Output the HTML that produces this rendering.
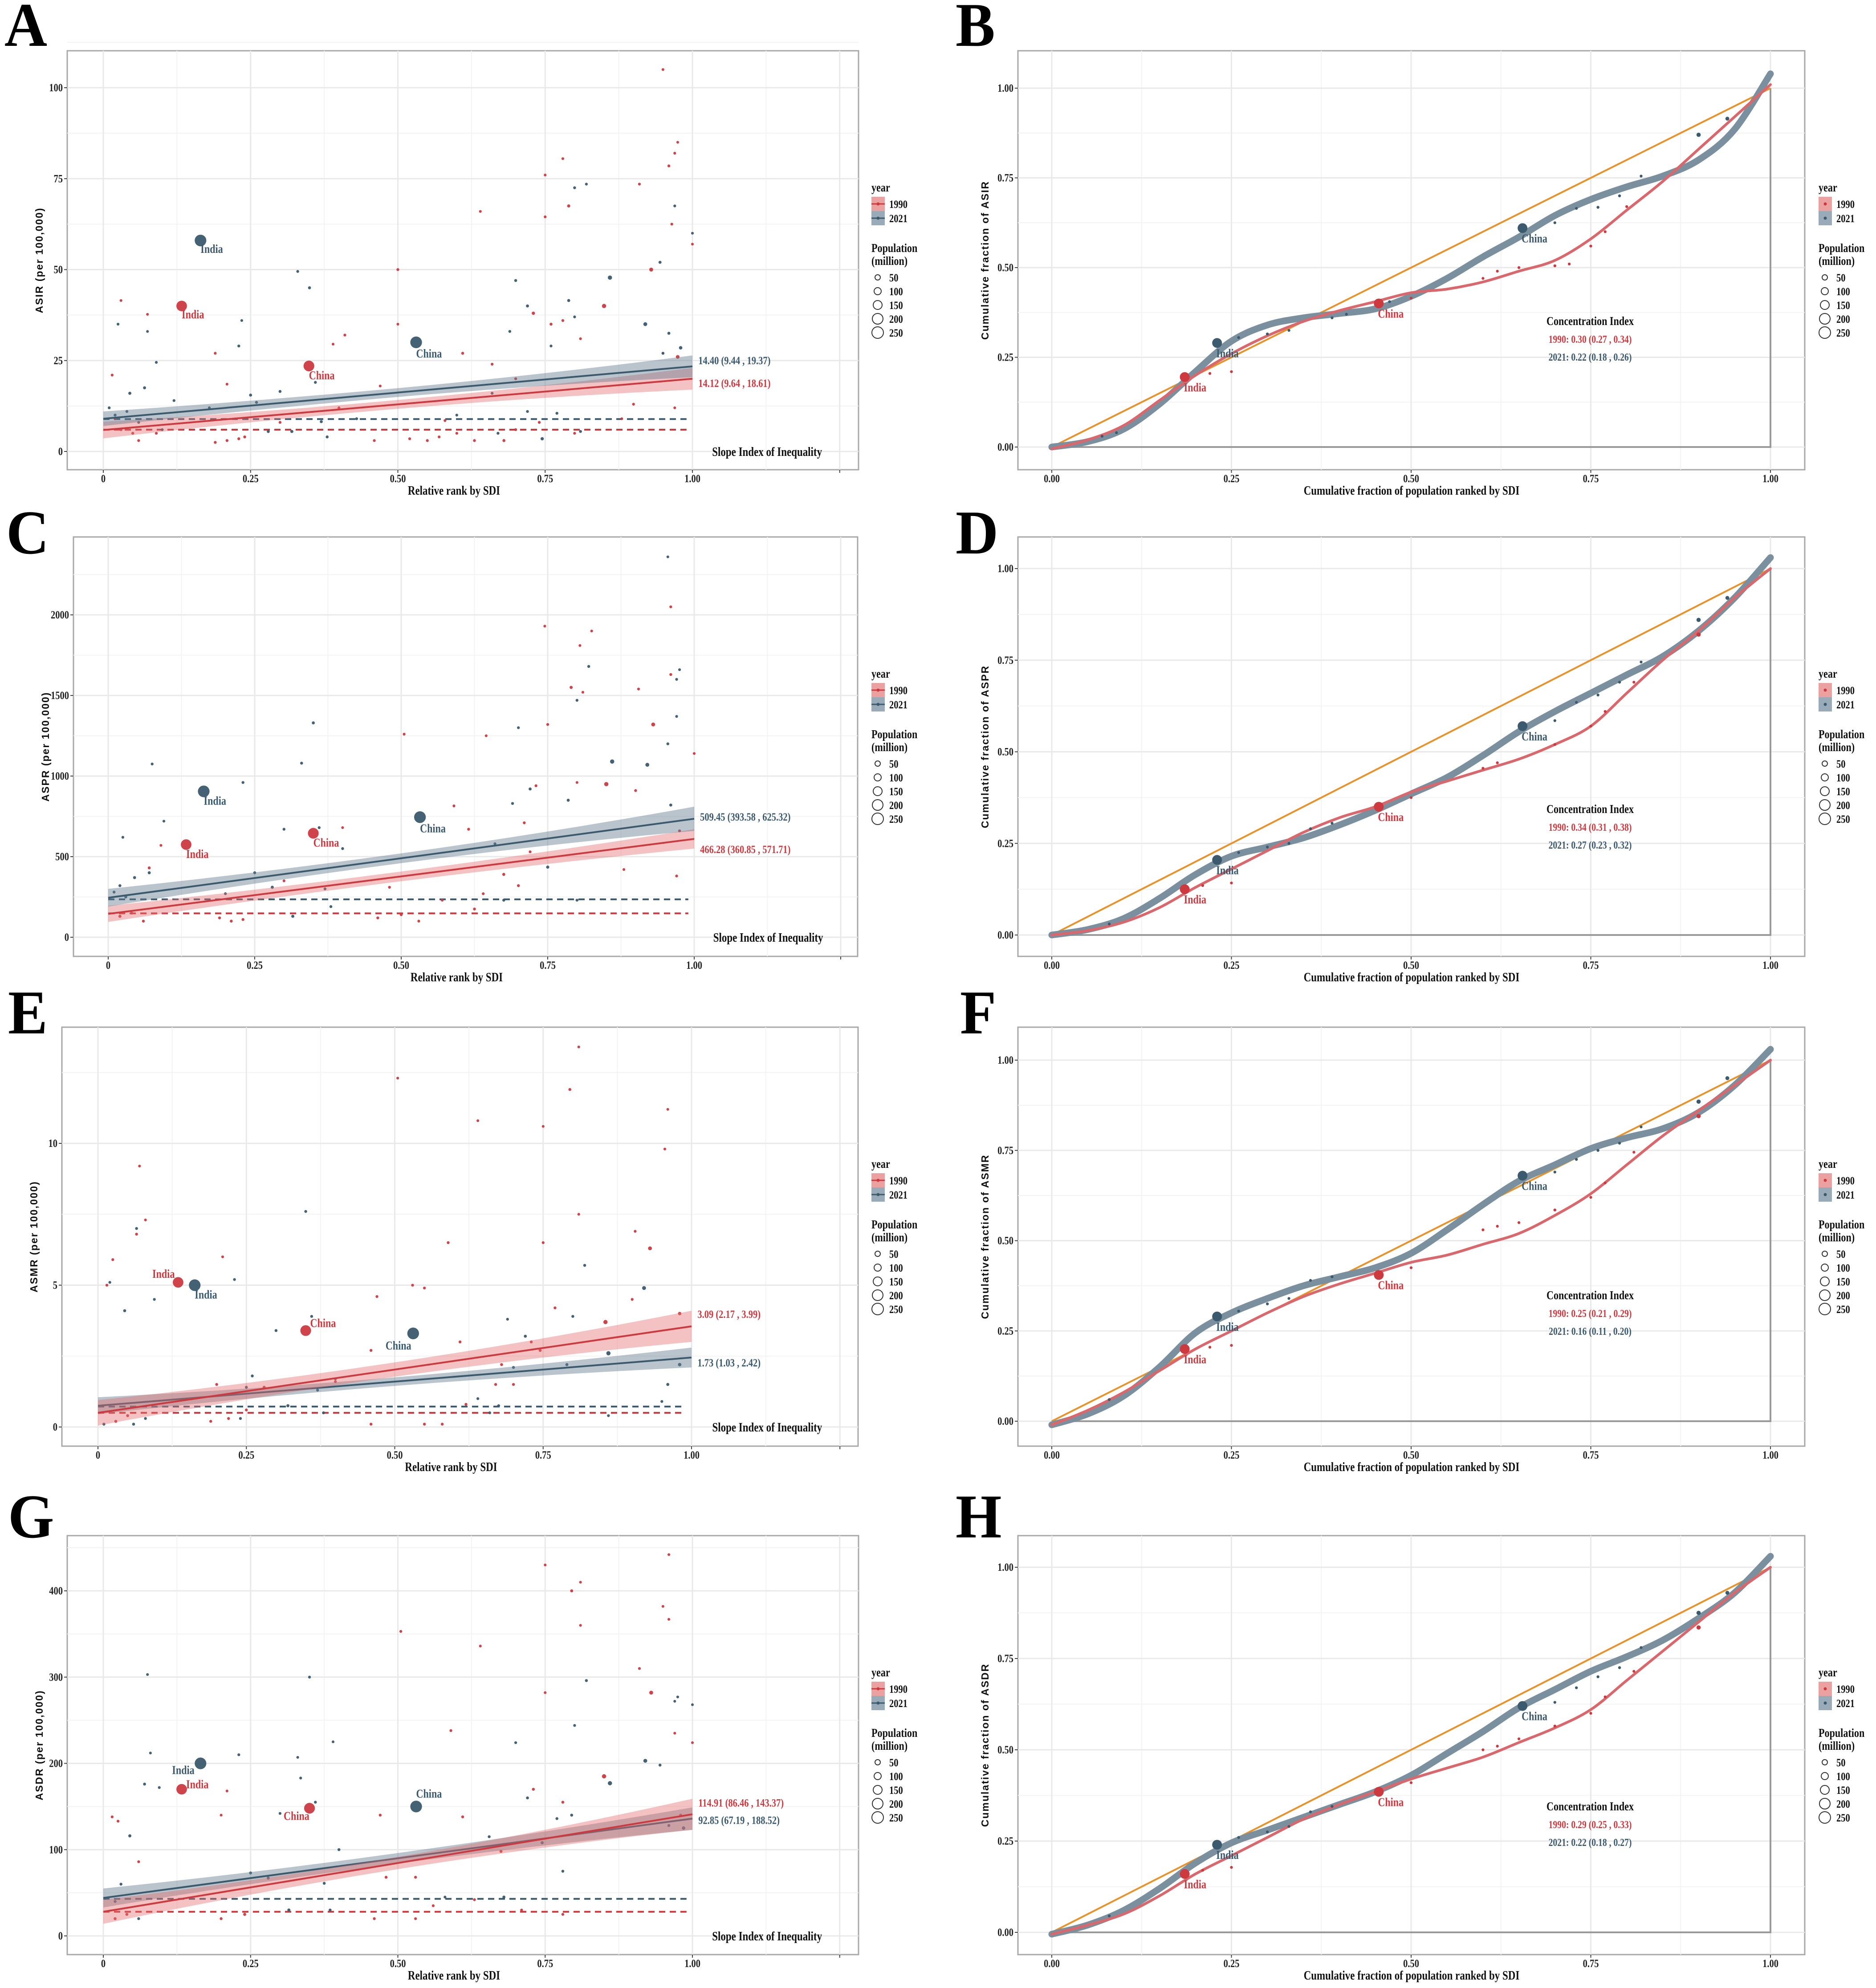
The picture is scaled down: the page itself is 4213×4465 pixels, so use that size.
<!DOCTYPE html>
<html><head><meta charset="utf-8"><title>Health inequality panels A–H</title>
<style>
html,body{margin:0;padding:0;background:#fff;}
svg{display:block;}
text{font-family:"Liberation Serif",serif;font-weight:bold;}
.sans{font-family:"Liberation Sans",sans-serif;}
</style></head>
<body>
<svg id="fig" width="4213" height="4465" viewBox="0 0 4213 4465" xmlns="http://www.w3.org/2000/svg"></svg>
<script>
// ===== DATA =====
// Scatter panels: [relative rank, rate, population (millions)]
const A1990 = [[0.133,40,1100],[0.349,23.5,1150],[0.85,40,60],[0.93,50,40],[0.975,26,30],[0.73,38,15],[0.79,67.5,12],[0.96,78.5,5],[0.97,82,4],[0.975,85,3],[0.95,105,3],[0.965,62.5,4],[1.0,57,3],[0.91,73.5,4],[0.75,76,3],[0.78,80.5,3],[0.75,64.5,4],[0.64,66,3],[0.5,50,5],[0.03,41.5,3],[0.075,37.7,3],[0.19,27,4],[0.41,32,4],[0.39,29.5,3],[0.015,21,4],[0.61,27,6],[0.76,35,6],[0.78,36,4],[0.81,31,3],[0.95,27,3],[0.21,18.5,3],[0.5,35,3],[0.47,18,3],[0.66,24,4],[0.7,20,5],[0.02,9,5],[0.03,6,6],[0.05,5,5],[0.06,3,4],[0.09,5,4],[0.19,2.5,5],[0.21,3,5],[0.23,3.5,6],[0.24,4,6],[0.46,3,4],[0.52,3.5,4],[0.55,3,5],[0.57,4,4],[0.6,5,4],[0.63,3,5],[0.68,3,7],[0.7,6,4],[0.74,8,5],[0.8,5,4],[0.9,13,4],[0.97,12,3],[0.4,12,4],[0.3,8,4],[0.58,8.5,4],[0.88,9,3]];
const A2021 = [[0.165,58,1400],[0.531,30,1420],[0.86,47.8,60],[0.92,35,40],[0.945,52,8],[0.98,28.5,20],[0.35,45,8],[0.79,41.5,8],[0.72,40,8],[0.70,47,6],[0.80,72.5,5],[0.82,73.5,4],[0.97,67.5,4],[1.0,60,3],[0.96,32.5,8],[0.33,49.5,4],[0.025,35,4],[0.075,33,3],[0.23,29,5],[0.235,36,3],[0.36,19,5],[0.30,16.5,6],[0.045,16,10],[0.07,17.5,8],[0.09,24.5,4],[0.69,33,5],[0.8,37,4],[0.76,29,4],[0.95,27,5],[0.25,15.5,8],[0.26,13.5,6],[0.72,11,4],[0.77,10.5,5],[0.01,12,5],[0.02,10,6],[0.04,11,5],[0.06,8,4],[0.1,6,4],[0.28,5.5,8],[0.32,5.5,10],[0.37,8.2,8],[0.38,4,6],[0.66,16,5],[0.67,5,5],[0.745,3.5,15],[0.81,5.5,5],[0.18,12,4],[0.12,14,4],[0.43,9,5],[0.6,10,4]];
const C1990 = [[0.133,575,1100],[0.35,645,1150],[0.85,950,60],[0.93,1320,40],[0.79,1550,12],[0.96,1630,5],[0.96,2050,4],[0.745,1930,3],[0.805,1810,3],[0.825,1900,3],[0.905,1540,4],[0.81,1520,3],[0.505,1260,4],[0.645,1250,3],[0.75,1320,4],[0.59,815,4],[0.615,670,5],[0.73,940,5],[0.71,710,5],[0.9,910,4],[0.975,660,5],[1.0,1140,3],[0.675,390,8],[0.625,175,5],[0.21,100,6],[0.07,430,6],[0.02,130,8],[0.04,150,6],[0.06,100,5],[0.19,120,5],[0.23,110,5],[0.46,120,5],[0.5,140,5],[0.53,100,4],[0.57,230,4],[0.64,270,4],[0.7,320,5],[0.72,530,4],[0.8,960,3],[0.09,570,3],[0.4,680,3],[0.3,350,4],[0.48,310,4],[0.97,380,4],[0.88,420,3]];
const C2021 = [[0.163,905,1400],[0.532,745,1420],[0.86,1090,60],[0.92,1070,40],[0.82,1680,6],[0.80,1470,5],[0.97,1600,4],[0.975,1660,3],[0.955,1200,5],[0.97,1370,4],[0.96,820,8],[0.35,1330,8],[0.33,1080,6],[0.23,960,5],[0.075,1075,4],[0.70,1300,4],[0.69,830,5],[0.72,920,8],[0.785,850,8],[0.75,435,10],[0.28,310,10],[0.315,130,10],[0.07,400,8],[0.045,370,8],[0.955,2360,3],[0.02,320,6],[0.03,250,6],[0.01,280,5],[0.25,400,6],[0.36,680,5],[0.3,670,5],[0.4,550,5],[0.37,300,6],[0.675,230,6],[0.8,230,5],[0.66,580,5],[0.095,720,3],[0.025,620,4],[0.2,270,5],[0.38,190,5]];
const E1990 = [[0.135,5.1,1100],[0.35,3.4,1150],[0.81,13.4,3],[0.505,12.3,3],[0.795,11.9,6],[0.96,11.2,3],[0.64,10.8,3],[0.75,10.6,3],[0.955,9.8,3],[0.07,9.2,3],[0.08,7.3,3],[0.81,7.5,3],[0.065,6.8,5],[0.59,6.5,5],[0.75,6.5,4],[0.93,6.3,40],[0.905,6.9,4],[0.025,5.9,4],[0.015,5.0,4],[0.21,6.0,3],[0.855,3.7,60],[0.98,4.0,20],[0.73,3.0,6],[0.745,2.7,8],[0.61,3.0,5],[0.46,2.7,5],[0.28,1.4,8],[0.2,1.5,5],[0.68,2.2,6],[0.77,4.2,5],[0.47,4.6,4],[0.53,5.0,4],[0.55,4.9,4],[0.9,4.5,4],[0.67,1.5,5],[0.7,1.5,5],[0.05,0.4,6],[0.03,0.2,6],[0.19,0.2,5],[0.22,0.3,5],[0.46,0.1,5],[0.55,0.1,5],[0.58,0.1,5],[0.62,0.8,5],[0.4,1.6,4],[0.25,0.6,5]];
const E2021 = [[0.163,5.0,1400],[0.531,3.3,1420],[0.35,7.6,5],[0.065,7.0,5],[0.82,5.7,6],[0.92,4.9,40],[0.045,4.1,8],[0.3,3.4,6],[0.86,2.6,60],[0.98,2.2,20],[0.96,1.5,8],[0.72,3.2,8],[0.79,2.2,8],[0.25,1.4,6],[0.32,0.75,10],[0.36,3.9,5],[0.02,5.1,4],[0.23,5.2,4],[0.095,4.5,4],[0.7,2.1,6],[0.8,3.9,5],[0.69,3.8,4],[0.26,1.8,6],[0.37,1.3,5],[0.4,1.7,5],[0.675,0.75,6],[0.66,0.5,5],[0.38,0.5,6],[0.01,0.1,6],[0.06,0.1,6],[0.08,0.3,5],[0.24,0.3,5],[0.86,0.4,4],[0.95,0.9,4],[0.64,1.0,4]];
const G1990 = [[0.133,170,1100],[0.35,148,1150],[0.96,442,3],[0.75,430,3],[0.81,410,3],[0.795,400,8],[0.95,382,3],[0.96,367,3],[0.81,360,3],[0.505,353,4],[0.64,336,3],[0.91,310,4],[0.93,282,40],[0.75,282,3],[0.59,238,4],[0.97,235,3],[1.0,224,3],[0.85,185,60],[0.73,170,6],[0.78,155,5],[0.61,138,5],[0.675,98,8],[0.47,140,5],[0.48,68,6],[0.025,133,4],[0.015,138,4],[0.21,168,3],[0.06,86,4],[0.2,140,3],[0.02,20,6],[0.04,25,6],[0.2,20,5],[0.24,25,8],[0.46,20,5],[0.53,20,4],[0.56,35,4],[0.63,42,5],[0.71,30,4],[0.78,25,4],[0.53,68,5],[0.98,140,8]];
const G2021 = [[0.165,200,1400],[0.531,150,1420],[0.075,303,3],[0.35,300,5],[0.82,296,6],[0.975,277,3],[0.97,272,3],[1.0,268,3],[0.80,244,4],[0.92,203,40],[0.945,198,6],[0.86,177,60],[0.70,224,4],[0.39,225,3],[0.23,210,4],[0.33,207,3],[0.08,212,3],[0.07,176,6],[0.095,172,4],[0.045,116,10],[0.335,183,4],[0.36,155,5],[0.3,142,4],[0.795,140,6],[0.77,136,5],[0.72,160,6],[0.4,100,6],[0.745,108,10],[0.985,125,20],[0.96,128,6],[0.28,67,8],[0.25,73,6],[0.375,61,6],[0.315,30,10],[0.385,30,6],[0.68,45,8],[0.655,115,5],[0.02,40,6],[0.03,60,5],[0.06,20,5],[0.58,45,4],[0.78,75,5]];

// SII fitted lines: [value at rank 0, value at rank 1, halfwidth at 0, min halfwidth, halfwidth at 1]
const fitA1990 = [5.9,20.0,2.3,1.2,3.0];
const fitA2021 = [9.0,23.4,2.0,1.2,3.0];
const fitC1990 = [145,610,50,30,60];
const fitC2021 = [245,735,55,30,75];
const fitE1990 = [0.5,3.55,0.45,0.25,0.55];
const fitE2021 = [0.75,2.45,0.3,0.15,0.35];
const fitG1990 = [28,141,14,7,18];
const fitG2021 = [44,136,11,6,13];
// reference (dashed) levels
const refA = [6.0,8.9];
const refC = [148,235];
const refE = [0.5,0.72];
const refG = [28,43];

// Concentration curves: rank fraction grid and cumulative fraction values
const cumX = [0,0.05,0.1,0.15,0.2,0.25,0.3,0.35,0.4,0.45,0.5,0.55,0.6,0.65,0.7,0.75,0.8,0.85,0.9,0.95,1.0];
const B1990 = [-0.005,0.02,0.06,0.13,0.2,0.26,0.31,0.35,0.38,0.405,0.43,0.44,0.46,0.49,0.52,0.58,0.66,0.74,0.83,0.92,1.01];
const B2021 = [0,0.015,0.05,0.12,0.21,0.295,0.34,0.36,0.372,0.385,0.42,0.47,0.53,0.585,0.645,0.69,0.725,0.755,0.8,0.885,1.04];
const D1990 = [0,0.012,0.035,0.075,0.13,0.18,0.23,0.28,0.32,0.35,0.39,0.42,0.45,0.48,0.52,0.57,0.66,0.75,0.83,0.92,1.0];
const D2021 = [0,0.015,0.045,0.1,0.165,0.215,0.24,0.265,0.3,0.34,0.385,0.43,0.49,0.555,0.61,0.66,0.71,0.76,0.83,0.92,1.03];
const F1990 = [-0.01,0.03,0.08,0.14,0.2,0.25,0.3,0.345,0.38,0.41,0.44,0.46,0.49,0.52,0.57,0.63,0.71,0.79,0.86,0.93,1.0];
const F2021 = [-0.01,0.02,0.07,0.15,0.245,0.3,0.34,0.375,0.4,0.425,0.465,0.53,0.6,0.665,0.71,0.755,0.785,0.81,0.855,0.93,1.03];
const H1990 = [-0.005,0.02,0.05,0.1,0.16,0.21,0.26,0.31,0.35,0.385,0.42,0.45,0.48,0.52,0.56,0.61,0.69,0.77,0.85,0.93,1.0];
const H2021 = [-0.005,0.02,0.06,0.12,0.19,0.245,0.28,0.315,0.35,0.385,0.43,0.49,0.55,0.615,0.665,0.715,0.755,0.8,0.86,0.93,1.03];
// key country markers on curves: [x, y, population]
const Bpts1990 = [[0.185,0.195,1100],[0.455,0.40,1150],[0.22,0.205,4],[0.25,0.21,4],[0.5,0.415,4],[0.6,0.47,4],[0.62,0.49,4],[0.65,0.5,4],[0.7,0.505,5],[0.72,0.51,4],[0.75,0.56,4],[0.77,0.6,4],[0.8,0.67,4]];
const Bpts2021 = [[0.23,0.29,1400],[0.655,0.61,1420],[0.9,0.87,60],[0.94,0.915,40],[0.07,0.03,4],[0.09,0.04,4],[0.26,0.305,4],[0.3,0.315,5],[0.33,0.325,4],[0.39,0.36,4],[0.41,0.37,4],[0.47,0.405,4],[0.7,0.625,4],[0.73,0.665,4],[0.76,0.668,5],[0.79,0.7,5],[0.82,0.755,4]];
const Dpts1990 = [[0.185,0.125,1100],[0.455,0.35,1150],[0.9,0.82,60],[0.21,0.135,4],[0.25,0.142,4],[0.5,0.375,4],[0.6,0.455,4],[0.62,0.47,4],[0.7,0.52,5],[0.75,0.57,4],[0.77,0.61,4],[0.81,0.69,4]];
const Dpts2021 = [[0.23,0.205,1400],[0.655,0.57,1420],[0.9,0.86,60],[0.94,0.92,40],[0.08,0.03,4],[0.26,0.225,4],[0.3,0.24,5],[0.33,0.25,4],[0.36,0.29,4],[0.39,0.305,4],[0.7,0.585,4],[0.73,0.635,4],[0.76,0.655,5],[0.79,0.69,5],[0.82,0.745,4]];
const Fpts1990 = [[0.185,0.2,1100],[0.455,0.405,1150],[0.9,0.845,60],[0.22,0.205,4],[0.25,0.21,4],[0.5,0.425,4],[0.6,0.53,4],[0.62,0.54,4],[0.65,0.55,4],[0.7,0.585,5],[0.75,0.62,4],[0.77,0.66,4],[0.81,0.745,4]];
const Fpts2021 = [[0.23,0.29,1400],[0.655,0.68,1420],[0.9,0.885,60],[0.94,0.95,40],[0.08,0.06,4],[0.26,0.305,4],[0.3,0.325,5],[0.33,0.34,4],[0.36,0.39,4],[0.39,0.4,4],[0.7,0.69,4],[0.73,0.725,4],[0.76,0.75,5],[0.79,0.77,5],[0.82,0.815,4]];
const Hpts1990 = [[0.185,0.16,1100],[0.455,0.385,1150],[0.9,0.835,60],[0.21,0.17,4],[0.25,0.178,4],[0.5,0.41,4],[0.6,0.5,4],[0.62,0.51,4],[0.65,0.53,4],[0.7,0.565,5],[0.75,0.6,4],[0.77,0.645,4],[0.81,0.715,4]];
const Hpts2021 = [[0.23,0.24,1400],[0.655,0.62,1420],[0.9,0.875,60],[0.94,0.93,40],[0.08,0.045,4],[0.26,0.26,4],[0.3,0.275,5],[0.33,0.29,4],[0.36,0.33,4],[0.39,0.345,4],[0.7,0.63,4],[0.73,0.67,4],[0.76,0.7,5],[0.79,0.725,5],[0.82,0.78,4]];

const scatterTicksX = [0,0.25,0.5,0.75,1.0];
const scatterTickLabX = ["0","0.25","0.50","0.75","1.00"];
const cumTicks = [0,0.25,0.5,0.75,1.0];
const cumTickLab = ["0.00","0.25","0.50","0.75","1.00"];
const ticksA = [0,25,50,75,100];
const ticksC = [0,500,1000,1500,2000];
const ticksE = [0,5,10];
const ticksG = [0,100,200,300,400];
const siiA = ["14.12 (9.64 , 18.61)","14.40 (9.44 , 19.37)"];
const siiC = ["466.28 (360.85 , 571.71)","509.45 (393.58 , 625.32)"];
const siiE = ["3.09 (2.17 , 3.99)","1.73 (1.03 , 2.42)"];
const siiG = ["114.91 (86.46 , 143.37)","92.85 (67.19 , 188.52)"];
const ciB = ["1990: 0.30 (0.27 , 0.34)","2021: 0.22 (0.18 , 0.26)"];
const ciD = ["1990: 0.34 (0.31 , 0.38)","2021: 0.27 (0.23 , 0.32)"];
const ciF = ["1990: 0.25 (0.21 , 0.29)","2021: 0.16 (0.11 , 0.20)"];
const ciH = ["1990: 0.29 (0.25 , 0.33)","2021: 0.22 (0.18 , 0.27)"];

// ===== DRAWING =====
const NS = "http://www.w3.org/2000/svg";
const svg = document.getElementById('fig');
const RED = "#cc3a40", BLUE = "#3b5a6e";
function el(tag, attrs, parent){
  const e = document.createElementNS(NS, tag);
  for (const k in attrs) e.setAttribute(k, attrs[k]);
  (parent||svg).appendChild(e);
  return e;
}
function txt(parent, x, y, s, size, fill, anchor, sx, name, cls){
  const t = el('text', {transform:`translate(${x},${y}) scale(${sx||0.82},1)`, 'font-size':size, fill:fill||'#111', 'text-anchor':anchor||'start'}, parent);
  if (cls) t.setAttribute('class', cls);
  t.textContent = s;
  
  
  return t;
}
function rad(pop){ return 2.6 + Math.sqrt(pop)*0.28; }

function frame(g, P, xTicks, xLabs, xMinor, yTicks, yLabs, yMinor, X, Y){
  el('rect',{x:P.l,y:P.t,width:P.r-P.l,height:P.b-P.t,fill:'#fff',stroke:'#a8a8a8','stroke-width':3},g);
  yMinor.forEach(v=>el('line',{x1:P.l,x2:P.r,y1:Y(v),y2:Y(v),stroke:'#f3f3f3','stroke-width':2},g));
  xMinor.forEach(v=>el('line',{y1:P.t,y2:P.b,x1:X(v),x2:X(v),stroke:'#f3f3f3','stroke-width':2},g));
  yTicks.forEach((v,i)=>{
    el('line',{x1:P.l,x2:P.r,y1:Y(v),y2:Y(v),stroke:'#e9e9e9','stroke-width':3},g);
    el('line',{x1:P.l-7,x2:P.l,y1:Y(v),y2:Y(v),stroke:'#444','stroke-width':2},g);
    txt(g, P.l-10, Y(v)+8, yLabs[i], 25, '#222', 'end', 0.82, 'y-tick-label');
  });
  xTicks.forEach((v,i)=>{
    el('line',{y1:P.t,y2:P.b,x1:X(v),x2:X(v),stroke:'#e9e9e9','stroke-width':3},g);
    el('line',{y1:P.b,y2:P.b+7,x1:X(v),x2:X(v),stroke:'#444','stroke-width':2},g);
    if (xLabs[i]!=='') txt(g, X(v), P.b+28, xLabs[i], 25, '#222', 'middle', 0.82, 'x-tick-label');
  });
}

function legend(g, lx, top, curve){
  const lg = el('g',{},g);
  
  
  txt(lg, lx, top+316, 'year', 27, '#111', 'start', 0.82, 'legend-title-year');
  [[RED,'rgba(229,130,130,0.75)','1990'],[BLUE,'rgba(110,135,155,0.7)','2021']].forEach((k,i)=>{
    const y = top+328+i*32;
    const kr = el('rect',{x:lx,y:y,width:30,height:32,fill:k[1]},lg);
    
    
    if(!curve) el('line',{x1:lx,x2:lx+30,y1:y+16,y2:y+16,stroke:k[0],'stroke-width':3},lg);
    el('circle',{cx:lx+15,cy:y+16,r:3.5,fill:k[0]},lg);
    txt(lg, lx+40, y+25, k[2], 25, '#111', 'start', 0.82, 'legend-label-'+k[2]);
  });
  txt(lg, lx, top+452, 'Population', 27, '#111', 'start', 0.82, 'legend-title-population');
  txt(lg, lx, top+481, '(million)', 27, '#111', 'start', 0.82, 'legend-title-million');
  [['50',6],['100',8],['150',10],['200',12],['250',13]].forEach((s,i)=>{
    const cy = top+509+i*31;
    el('circle',{cx:lx+14,cy:cy,r:s[1],fill:'none',stroke:'#333','stroke-width':2},lg);
    txt(lg, lx+40, cy+9, s[0], 25, '#111', 'start', 0.82, 'legend-size-'+s[0]);
  });
}

function band(g, X, Y, f, fill, lineCol, name){
  const up=[], lo=[];
  for(let i=0;i<=40;i++){
    const x=i/40, xc=0.45;
    const h = x<xc ? f[3]+(f[2]-f[3])*Math.pow((xc-x)/xc,2) : f[3]+(f[4]-f[3])*Math.pow((x-xc)/(1-xc),2);
    const m = f[0]+(f[1]-f[0])*x;
    up.push(X(x)+','+Y(m+h)); lo.unshift(X(x)+','+Y(m-h));
  }
  const p = el('polygon',{points:up.concat(lo).join(' '),fill:fill},g);
  
  
  const l = el('line',{x1:X(0),y1:Y(f[0]),x2:X(1),y2:Y(f[1]),stroke:lineCol,'stroke-width':4},g);
  
  
}

function scatterPanel(cfg){
  const g = el('g',{});
  
  
  const P = cfg.P;
  const X = v => cfg.x0 + (cfg.x1-cfg.x0)*v;
  const Y = v => cfg.y0 - (cfg.y0-cfg.yRefPx)*v/cfg.yRef;
  txt(g, cfg.lx, cfg.ly, cfg.letter, 140, '#000', 'start', 0.95, 'panel-letter-'+cfg.letter);
  const xMinor=[0.125,0.375,0.625,0.875,1.125];
  const step = cfg.ticks[1]-cfg.ticks[0];
  const yMinor = cfg.ticks.map(v=>v+step/2);
  frame(g, P, scatterTicksX.concat([1.25]), scatterTickLabX.concat(['']), xMinor, cfg.ticks, cfg.ticks.map(String), yMinor, X, Y);
  // dashed reference
  el('line',{x1:X(0),x2:X(0.99),y1:Y(cfg.ref[1]),y2:Y(cfg.ref[1]),stroke:BLUE,'stroke-width':4,'stroke-dasharray':'14 10'},g);
  el('line',{x1:X(0),x2:X(0.99),y1:Y(cfg.ref[0]),y2:Y(cfg.ref[0]),stroke:RED,'stroke-width':4,'stroke-dasharray':'14 10'},g);
  // points
  [[cfg.p1990,RED,'1990'],[cfg.p2021,BLUE,'2021']].forEach(s=>{
    s[0].forEach(p=>{
      const c = el('circle',{cx:X(p[0]),cy:Y(p[1]),r:rad(p[2]),fill:s[1],'fill-opacity':0.95},g);
      
      
    });
  });
  // bands
  const order = cfg.redOnTop ? [[cfg.f2021,'rgba(100,125,145,0.45)',BLUE,'sii-2021'],[cfg.f1990,'rgba(228,110,110,0.42)',RED,'sii-1990']]
                             : [[cfg.f1990,'rgba(228,110,110,0.42)',RED,'sii-1990'],[cfg.f2021,'rgba(100,125,145,0.45)',BLUE,'sii-2021']];
  order.forEach(o=>band(g,X,Y,o[0],o[1],o[2],o[3]));
  // country labels
  cfg.labels.forEach(L=>txt(g, X(L[0])+L[2], Y(L[1])+L[3], L[4], 27, L[5], 'start', 0.82, 'country-label'));
  // SII texts
  txt(g, X(1.01), Y(cfg.siiPos[0])+8, cfg.sii[0], 25, RED, 'start', 0.82, 'sii-value-1990');
  txt(g, X(1.01), Y(cfg.siiPos[1])+8, cfg.sii[1], 25, BLUE, 'start', 0.82, 'sii-value-2021');
  txt(g, X(1.22), Y(0)+10, 'Slope Index of Inequality', 28, '#111', 'end', 0.82, 'sii-caption');
  txt(g, (P.l+P.r)/2-20, P.b+56, 'Relative rank by SDI', 28, '#111', 'middle', 0.82, 'x-axis-title');
  const yt = txt(g, 0, 0, cfg.ytitle, 23, '#111', 'middle', 1, 'y-axis-title', 'sans');
  yt.setAttribute('transform', `translate(${P.l-55},${(P.t+P.b)/2}) rotate(-90)`);
  yt.setAttribute('letter-spacing','2');
  legend(g, 1957, P.t, false);
}

function smoothPath(X, Y, xs, ys){
  const pts = xs.map((x,i)=>[X(x),Y(ys[i])]);
  let d = `M${pts[0][0]},${pts[0][1]}`;
  for(let i=0;i<pts.length-1;i++){
    const p0=pts[Math.max(0,i-1)], p1=pts[i], p2=pts[i+1], p3=pts[Math.min(pts.length-1,i+2)];
    d += ` C${p1[0]+(p2[0]-p0[0])/6},${p1[1]+(p2[1]-p0[1])/6} ${p2[0]-(p3[0]-p1[0])/6},${p2[1]-(p3[1]-p1[1])/6} ${p2[0]},${p2[1]}`;
  }
  return d;
}

function curvePanel(cfg){
  const g = el('g',{});
  
  
  const P = cfg.P;
  const X = v => 2362 + 1614*v;
  const Y = v => cfg.y0 - (cfg.y0-cfg.y1)*v;
  txt(g, cfg.lx, cfg.ly, cfg.letter, 140, '#000', 'start', 0.95, 'panel-letter-'+cfg.letter);
  frame(g, P, cumTicks, cumTickLab, [0.125,0.375,0.625,0.875], cumTicks, cumTickLab, [0.125,0.375,0.625,0.875], X, Y);
  el('polyline',{points:`${X(0)},${Y(0)} ${X(1)},${Y(0)} ${X(1)},${Y(1)}`,fill:'none',stroke:'#9a9a9a','stroke-width':4},g);
  const eq = el('line',{x1:X(0),y1:Y(0),x2:X(1),y2:Y(1),stroke:'#e8922a','stroke-width':4},g);
  
  
  const c21 = el('path',{d:smoothPath(X,Y,cumX,cfg.c2021),fill:'none',stroke:'#7a909f','stroke-width':15,'stroke-linecap':'round'},g);
  
  
  const c90 = el('path',{d:smoothPath(X,Y,cumX,cfg.c1990),fill:'none',stroke:'#d9676c','stroke-width':6,'stroke-linecap':'round'},g);
  
  
  [[cfg.p1990,RED,'1990'],[cfg.p2021,BLUE,'2021']].forEach(s=>{
    s[0].forEach(p=>{
      const c = el('circle',{cx:X(p[0]),cy:Y(p[1]),r:Math.min(rad(p[2]),11),fill:s[1]},g);
      
      
    });
  });
  const [i90,c90p,i21,c21p] = [cfg.p1990[0],cfg.p1990[1],cfg.p2021[0],cfg.p2021[1]];
  txt(g, X(i90[0])-2, Y(i90[1])+32, 'India', 27, RED, 'start', 0.82, 'country-label-india-1990');
  txt(g, X(c90p[0])-2, Y(c90p[1])+32, 'China', 27, RED, 'start', 0.82, 'country-label-china-1990');
  txt(g, X(i21[0])-2, Y(i21[1])+32, 'India', 27, BLUE, 'start', 0.82, 'country-label-india-2021');
  txt(g, X(c21p[0])-2, Y(c21p[1])+32, 'China', 27, BLUE, 'start', 0.82, 'country-label-china-2021');
  txt(g, 3571, cfg.y0-274, 'Concentration Index', 27, '#111', 'middle', 0.82, 'ci-title');
  txt(g, 3571, cfg.y0-234, cfg.ci[0], 24, RED, 'middle', 0.82, 'ci-value-1990');
  txt(g, 3571, cfg.y0-194, cfg.ci[1], 24, BLUE, 'middle', 0.82, 'ci-value-2021');
  txt(g, 3170, P.b+56, 'Cumulative fraction of population ranked by SDI', 28, '#111', 'middle', 0.82, 'x-axis-title');
  const yt = txt(g, 0, 0, cfg.ytitle, 23, '#111', 'middle', 1, 'y-axis-title', 'sans');
  yt.setAttribute('transform', `translate(${P.l-66},${(P.t+P.b)/2}) rotate(-90)`);
  yt.setAttribute('letter-spacing','2');
  legend(g, 4084, P.t, true);
}

scatterPanel({letter:'A',lx:10,ly:103,P:{l:151,r:1928,t:114,b:1055},x0:232,x1:1555,y0:1014,yRef:100,yRefPx:197,ticks:ticksA,
  ref:refA,p1990:A1990,p2021:A2021,f1990:fitA1990,f2021:fitA2021,sii:siiA,siiPos:[18.7,25],ytitle:'ASIR (per 100,000)',
  labels:[[0.165,58,0,28,'India',BLUE],[0.133,40,0,28,'India',RED],[0.349,23.5,0,30,'China',RED],[0.531,30,0,34,'China',BLUE]]});
scatterPanel({letter:'C',lx:14,ly:1243,P:{l:165,r:1926,t:1206,b:2148},x0:243,x1:1559,y0:2105,yRef:2000,yRefPx:1381,ticks:ticksC,
  ref:refC,p1990:C1990,p2021:C2021,f1990:fitC1990,f2021:fitC2021,sii:siiC,siiPos:[544,746],ytitle:'ASPR (per 100,000)',
  labels:[[0.163,905,0,30,'India',BLUE],[0.133,575,0,30,'India',RED],[0.35,645,0,30,'China',RED],[0.532,745,0,34,'China',BLUE]]});
scatterPanel({letter:'E',lx:18,ly:2321,P:{l:139,r:1927,t:2307,b:3248},x0:220,x1:1553,y0:3205,yRef:10,yRefPx:2568,ticks:ticksE,
  ref:refE,p1990:E1990,p2021:E2021,f1990:fitE1990,f2021:fitE2021,sii:siiE,siiPos:[3.97,2.26],ytitle:'ASMR (per 100,000)',redOnTop:true,
  labels:[[0.163,5.0,0,30,'India',BLUE],[0.135,5.1,-58,-10,'India',RED],[0.35,3.4,10,-8,'China',RED],[0.531,3.3,-62,36,'China',BLUE]]});
scatterPanel({letter:'G',lx:18,ly:3453,P:{l:151,r:1928,t:3449,b:4390},x0:232,x1:1555,y0:4348,yRef:400,yRefPx:3573,ticks:ticksG,
  ref:refG,p1990:G1990,p2021:G2021,f1990:fitG1990,f2021:fitG2021,sii:siiG,siiPos:[154,134],ytitle:'ASDR (per 100,000)',redOnTop:true,
  labels:[[0.165,200,-64,24,'India',BLUE],[0.133,170,10,-2,'India',RED],[0.35,148,-58,26,'China',RED],[0.531,150,0,-20,'China',BLUE]]});

curvePanel({letter:'B',lx:2146,ly:103,P:{l:2286,r:4053,t:114,b:1055},y0:1004,y1:198,c1990:B1990,c2021:B2021,p1990:Bpts1990,p2021:Bpts2021,ci:ciB,ytitle:'Cumulative fraction of ASIR'});
curvePanel({letter:'D',lx:2146,ly:1243,P:{l:2286,r:4053,t:1206,b:2148},y0:2100,y1:1277,c1990:D1990,c2021:D2021,p1990:Dpts1990,p2021:Dpts2021,ci:ciD,ytitle:'Cumulative fraction of ASPR'});
curvePanel({letter:'F',lx:2156,ly:2321,P:{l:2286,r:4053,t:2307,b:3248},y0:3192,y1:2381,c1990:F1990,c2021:F2021,p1990:Fpts1990,p2021:Fpts2021,ci:ciF,ytitle:'Cumulative fraction of ASMR'});
curvePanel({letter:'H',lx:2146,ly:3453,P:{l:2286,r:4053,t:3449,b:4390},y0:4340,y1:3520,c1990:H1990,c2021:H2021,p1990:Hpts1990,p2021:Hpts2021,ci:ciH,ytitle:'Cumulative fraction of ASDR'});
</script>
</body></html>
